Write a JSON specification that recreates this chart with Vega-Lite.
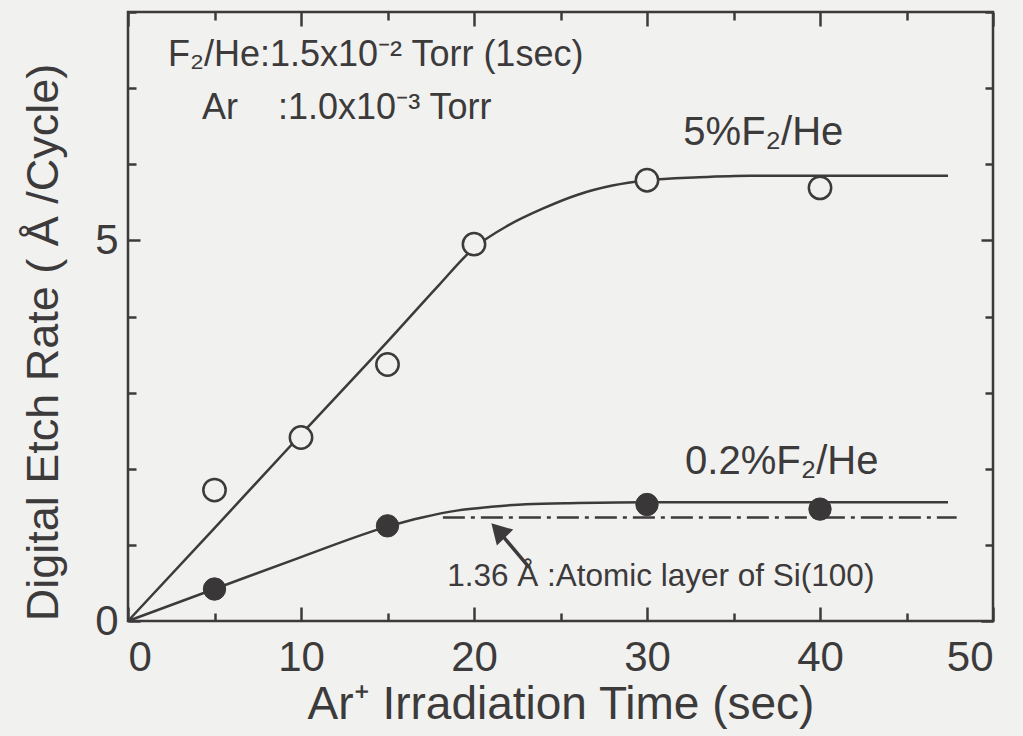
{
  "$schema": "https://vega.github.io/schema/vega-lite/v6.json",
  "width": 865,
  "height": 609,
  "autosize": {"type": "none"},
  "padding": {"left": 128, "top": 12, "right": 30, "bottom": 115},
  "background": "#f1f1ef",
  "config": {
    "view": {"stroke": "#3c3a3b", "strokeWidth": 2.5},
    "font": "Liberation Sans",
    "axis": {
      "domain": false,
      "grid": false,
      "tickColor": "#3c3a3b",
      "tickWidth": 2.5,
      "labelColor": "#3c3a3b",
      "titleColor": "#3c3a3b",
      "labelFont": "Liberation Sans",
      "titleFont": "Liberation Sans",
      "labelFontSize": 42,
      "titleFontSize": 46,
      "titleFontWeight": "normal"
    }
  },
  "datasets": {
    "curves": [
      {"series": "5%", "t": 0, "rate": 0},
      {"series": "5%", "t": 5, "rate": 1.22},
      {"series": "5%", "t": 10, "rate": 2.45},
      {"series": "5%", "t": 15, "rate": 3.67},
      {"series": "5%", "t": 18, "rate": 4.42},
      {"series": "5%", "t": 20, "rate": 4.9},
      {"series": "5%", "t": 22, "rate": 5.2},
      {"series": "5%", "t": 24, "rate": 5.42},
      {"series": "5%", "t": 26, "rate": 5.6},
      {"series": "5%", "t": 28, "rate": 5.72},
      {"series": "5%", "t": 30, "rate": 5.79},
      {"series": "5%", "t": 33, "rate": 5.83},
      {"series": "5%", "t": 36, "rate": 5.85},
      {"series": "5%", "t": 40, "rate": 5.85},
      {"series": "5%", "t": 47.4, "rate": 5.85},
      {"series": "0.2%", "t": 0, "rate": 0},
      {"series": "0.2%", "t": 5, "rate": 0.42},
      {"series": "0.2%", "t": 10, "rate": 0.84},
      {"series": "0.2%", "t": 15, "rate": 1.24},
      {"series": "0.2%", "t": 17, "rate": 1.36},
      {"series": "0.2%", "t": 19, "rate": 1.45},
      {"series": "0.2%", "t": 21, "rate": 1.5},
      {"series": "0.2%", "t": 23, "rate": 1.535},
      {"series": "0.2%", "t": 26, "rate": 1.55},
      {"series": "0.2%", "t": 30, "rate": 1.56},
      {"series": "0.2%", "t": 40, "rate": 1.56},
      {"series": "0.2%", "t": 47.4, "rate": 1.56}
    ],
    "open": [
      {"series": "5%", "t": 5, "rate": 1.72},
      {"series": "5%", "t": 10, "rate": 2.41},
      {"series": "5%", "t": 15, "rate": 3.37},
      {"series": "5%", "t": 20, "rate": 4.95},
      {"series": "5%", "t": 30, "rate": 5.79},
      {"series": "5%", "t": 40, "rate": 5.69}
    ],
    "filled": [
      {"series": "0.2%", "t": 5, "rate": 0.42},
      {"series": "0.2%", "t": 15, "rate": 1.25},
      {"series": "0.2%", "t": 30, "rate": 1.53},
      {"series": "0.2%", "t": 40, "rate": 1.47}
    ],
    "atomic": [
      {"t": 18.2, "rate": 1.36},
      {"t": 47.9, "rate": 1.36}
    ]
  },
  "resolve": {"axis": {"x": "independent", "y": "independent"}},
  "layer": [
    {
      "data": {"name": "curves"},
      "mark": {"type": "line", "color": "#3c3a3b", "strokeWidth": 2.5, "interpolate": "monotone"},
      "encoding": {
        "x": {
          "field": "t", "type": "quantitative",
          "scale": {"domain": [0, 50], "nice": false},
          "axis": {
            "orient": "bottom",
            "values": [0, 5, 10, 15, 20, 25, 30, 35, 40, 45, 50],
            "labelExpr": "datum.value % 10 === 0 ? datum.label : ''",
            "tickSize": {"condition": {"test": "datum.value % 10 === 0", "value": -14}, "value": -8},
            "labelPadding": 30,
            "title": "Ar⁺ Irradiation Time (sec)",
            "titlePadding": 4
          }
        },
        "y": {
          "field": "rate", "type": "quantitative",
          "scale": {"domain": [0, 8], "nice": false},
          "axis": {
            "orient": "left",
            "values": [0, 1, 2, 3, 4, 5, 6, 7, 8],
            "labelExpr": "datum.value % 5 === 0 ? datum.label : ''",
            "tickSize": {"condition": {"test": "datum.value % 5 === 0", "value": -12}, "value": -8},
            "labelPadding": 22,
            "title": "Digital Etch Rate ( Å /Cycle)",
            "titleFontSize": 45,
            "titlePadding": 28,
            "titleY": 330
          }
        },
        "detail": {"field": "series"}
      }
    },
    {
      "data": {"name": "atomic"},
      "mark": {"type": "line", "color": "#3c3a3b", "strokeWidth": 2.5, "strokeDash": [22, 6, 4, 6]},
      "encoding": {
        "x": {"field": "t", "type": "quantitative", "axis": null},
        "y": {"field": "rate", "type": "quantitative", "axis": null}
      }
    },
    {
      "data": {"name": "open"},
      "mark": {"type": "point", "shape": "circle", "filled": true, "fill": "#f1f1ef", "stroke": "#3c3a3b", "strokeWidth": 2.5, "size": 500, "opacity": 1},
      "encoding": {
        "x": {
          "field": "t", "type": "quantitative",
          "axis": {
            "orient": "top",
            "values": [0, 5, 10, 15, 20, 25, 30, 35, 40, 45, 50],
            "labels": false,
            "title": null,
            "tickSize": {"condition": {"test": "datum.value % 10 === 0", "value": -14}, "value": -8}
          }
        },
        "y": {
          "field": "rate", "type": "quantitative",
          "axis": {
            "orient": "right",
            "values": [0, 1, 2, 3, 4, 5, 6, 7, 8],
            "labels": false,
            "title": null,
            "tickSize": {"condition": {"test": "datum.value % 5 === 0", "value": -12}, "value": -8}
          }
        }
      }
    },
    {
      "data": {"name": "filled"},
      "mark": {"type": "point", "shape": "circle", "filled": true, "fill": "#3a3738", "stroke": "#3a3738", "strokeWidth": 1, "size": 500, "opacity": 1},
      "encoding": {
        "x": {"field": "t", "type": "quantitative", "axis": null},
        "y": {"field": "rate", "type": "quantitative", "axis": null}
      }
    },
    {
      "data": {"values": [{}]},
      "mark": {"type": "rule", "color": "#3c3a3b", "strokeWidth": 3.5},
      "encoding": {
        "x": {"datum": 23.2, "type": "quantitative", "axis": null},
        "y": {"datum": 0.7, "type": "quantitative", "axis": null},
        "x2": {"datum": 21.5},
        "y2": {"datum": 1.16}
      }
    },
    {
      "data": {"values": [{}]},
      "mark": {"type": "point", "shape": "triangle-up", "filled": true, "color": "#3c3a3b", "size": 520, "angle": -44, "opacity": 1},
      "encoding": {
        "x": {"datum": 21.4, "type": "quantitative", "axis": null},
        "y": {"datum": 1.19, "type": "quantitative", "axis": null}
      }
    },
    {
      "data": {"values": [{}]},
      "mark": {"type": "text", "align": "left", "baseline": "middle", "fontSize": 36, "color": "#3c3a3b", "font": "Liberation Sans"},
      "encoding": {
        "x": {"datum": 2.31, "type": "quantitative", "axis": null},
        "y": {"datum": 7.44, "type": "quantitative", "axis": null},
        "text": {"value": "F₂/He:1.5x10⁻² Torr (1sec)"}
      }
    },
    {
      "data": {"values": [{}]},
      "mark": {"type": "text", "align": "left", "baseline": "middle", "fontSize": 36, "color": "#3c3a3b", "font": "Liberation Sans"},
      "encoding": {
        "x": {"datum": 4.28, "type": "quantitative", "axis": null},
        "y": {"datum": 6.74, "type": "quantitative", "axis": null},
        "text": {"value": "Ar\u00a0\u00a0\u00a0\u00a0:1.0x10⁻³ Torr"}
      }
    },
    {
      "data": {"values": [{}]},
      "mark": {"type": "text", "align": "left", "baseline": "middle", "fontSize": 40, "color": "#3c3a3b", "font": "Liberation Sans"},
      "encoding": {
        "x": {"datum": 32.1, "type": "quantitative", "axis": null},
        "y": {"datum": 6.41, "type": "quantitative", "axis": null},
        "text": {"value": "5%F₂/He"}
      }
    },
    {
      "data": {"values": [{}]},
      "mark": {"type": "text", "align": "left", "baseline": "middle", "fontSize": 40, "color": "#3c3a3b", "font": "Liberation Sans"},
      "encoding": {
        "x": {"datum": 32.2, "type": "quantitative", "axis": null},
        "y": {"datum": 2.09, "type": "quantitative", "axis": null},
        "text": {"value": "0.2%F₂/He"}
      }
    },
    {
      "data": {"values": [{}]},
      "mark": {"type": "text", "align": "left", "baseline": "middle", "fontSize": 31.5, "color": "#3c3a3b", "font": "Liberation Sans"},
      "encoding": {
        "x": {"datum": 18.45, "type": "quantitative", "axis": null},
        "y": {"datum": 0.58, "type": "quantitative", "axis": null},
        "text": {"value": "1.36 Å :Atomic layer of Si(100)"}
      }
    }
  ]
}
